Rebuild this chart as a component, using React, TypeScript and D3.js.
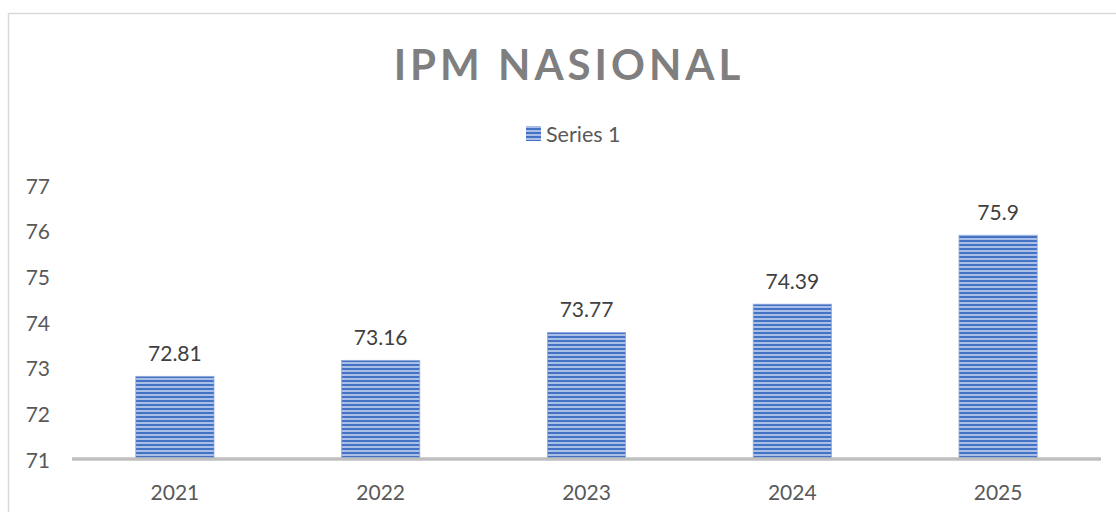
import React from "react";
import * as d3 from "d3";

const categories = ["2021", "2022", "2023", "2024", "2025"];
const values = [72.81, 73.16, 73.77, 74.39, 75.9];
const valueLabels = ["72.81", "73.16", "73.77", "74.39", "75.9"];
const yTicks = [71, 72, 73, 74, 75, 76, 77];
const seriesName = "Series 1";
const title = "IPM NASIONAL";

const W = 1116;
const H = 512;
const plotLeft = 72;
const plotRight = 1101;
const yTop = 185;
const yBottom = 459;
const FONT = "Lato, 'Open Sans', sans-serif";

export default function App() {
  const x = d3.scaleBand<string>().domain(categories).range([plotLeft, plotRight]).paddingInner(0.62).paddingOuter(0.31);
  const y = d3.scaleLinear().domain([71, 77]).range([yBottom, yTop]);
  return (
    <svg width={W} height={H} style={{ position: "absolute", left: 0, top: 0, background: "#fff" }}>
      <defs>
        <pattern id="stripes" patternUnits="userSpaceOnUse" width={8} height={4}>
          <rect x={0} y={0} width={8} height={4} fill="#a9bfe8" />
          <rect x={0} y={0} width={8} height={2} fill="#4472c4" />
        </pattern>
      </defs>
      <rect x={8.5} y={13.5} width={W + 10} height={H + 10} fill="#fff" stroke="#d9d9d9" strokeWidth={1.5} />
      <text x={569} y={64} textAnchor="middle" dominantBaseline="central" fontFamily={FONT} fontWeight={700} fontSize={42} letterSpacing={4} fill="#7f7f7f">{title}</text>
      <rect x={526} y={126} width={15} height={15} fill="url(#stripes)" />
      <text x={546} y={134} dominantBaseline="central" fontFamily={FONT} fontSize={21.5} fill="#595959">{seriesName}</text>
      {yTicks.map((t) => (
        <text key={t} x={50} y={y(t)} textAnchor="end" dominantBaseline="central" fontFamily={FONT} fontSize={21} fill="#595959">{t}</text>
      ))}
      {categories.map((c, i) => (
        <g key={c}>
          <rect x={x(c)!} y={y(values[i])} width={x.bandwidth()} height={y(71) - y(values[i])} fill="url(#stripes)" stroke="#8eaadb" strokeWidth={0.8} />
          <text x={x(c)! + x.bandwidth() / 2} y={y(values[i]) - 24} textAnchor="middle" dominantBaseline="central" fontFamily={FONT} fontSize={21} fill="#404040">{valueLabels[i]}</text>
          <text x={x(c)! + x.bandwidth() / 2} y={491} textAnchor="middle" dominantBaseline="central" fontFamily={FONT} fontSize={21} fill="#595959">{c}</text>
        </g>
      ))}
      <line x1={plotLeft} x2={plotRight} y1={yBottom} y2={yBottom} stroke="#bfbfbf" strokeWidth={3.5} />
    </svg>
  );
}
